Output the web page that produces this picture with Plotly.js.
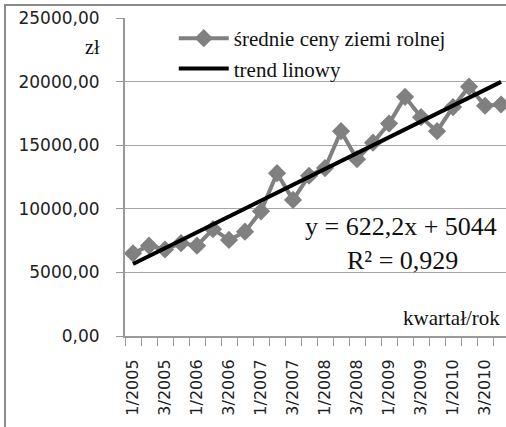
<!DOCTYPE html>
<html>
<head>
<meta charset="utf-8">
<script src="https://cdn.plot.ly/plotly-3.0.1.min.js"></script>
<style>
  html, body { margin: 0; padding: 0; background: #fff; }
  #wrap { position: relative; width: 506px; height: 427px; overflow: hidden; }
  #chart { position: absolute; left: 0; top: 0; width: 506px; height: 427px; }
  #frame { position: absolute; left: 4px; top: 4px; width: 520px; height: 440px;
           border-left: 2px solid #8a8a8a; border-top: 2px solid #8a8a8a; pointer-events: none; }
</style>
</head>
<body>
<div id="wrap">
  <div id="chart"></div>
  <div id="frame"></div>
</div>
<script>
// Quarterly categories (kwartał/rok)
const categories = [
  '1/2005','2/2005','3/2005','4/2005',
  '1/2006','2/2006','3/2006','4/2006',
  '1/2007','2/2007','3/2007','4/2007',
  '1/2008','2/2008','3/2008','4/2008',
  '1/2009','2/2009','3/2009','4/2009',
  '1/2010','2/2010','3/2010','4/2010'
];
// Średnie ceny ziemi rolnej (zł)
const priceValues = [
  6500, 7100, 6800, 7300,
  7100, 8400, 7550, 8200,
  9800, 12800, 10700, 12600,
  13200, 16100, 13900, 15200,
  16700, 18800, 17200, 16100,
  18000, 19600, 18100, 18200
];
// Linear trend shown on the chart: y = 622,2x + 5044, R² = 0,929
const trendSlope = 622.2;
const trendIntercept = 5044;
const trendLabel = 'y = 622,2x + 5044';
const r2Label = 'R² = 0,929';
// Tick labels: every other quarter is labelled
const tickLabels = categories.map((c, i) => (i % 2 === 0 ? c : ''));
const yTicks = [0, 5000, 10000, 15000, 20000, 25000];

const trendValues = categories.map((c, i) => trendIntercept + trendSlope * (i + 1));

const serif = 'Liberation Serif, Times New Roman, serif';
const sans = 'DejaVu Sans, Verdana, sans-serif';

const traces = [
  {
    x: categories, y: priceValues, type: 'scatter', mode: 'lines+markers',
    name: 'średnie ceny ziemi rolnej',
    line: { color: '#808080', width: 4 },
    marker: { symbol: 'diamond', size: 14, color: '#808080' }
  },
  {
    x: categories, y: trendValues, type: 'scatter', mode: 'lines',
    name: 'trend linowy',
    line: { color: '#000000', width: 4 }
  }
];

const layout = {
  width: 506, height: 427,
  margin: { l: 125, r: 0, t: 18, b: 91, pad: 0 },
  paper_bgcolor: '#ffffff', plot_bgcolor: '#ffffff',
  separators: ', ',
  showlegend: true,
  legend: {
    x: 0.128, y: 1.0, xanchor: 'left', yanchor: 'top',
    bgcolor: 'rgba(0,0,0,0)', borderwidth: 0,
    font: { family: serif, size: 21, color: '#111' },
    itemwidth: 50, tracegroupgap: 0
  },
  xaxis: {
    type: 'category',
    range: [-0.5, 23.31],
    tickmode: 'array', tickvals: categories, ticktext: tickLabels,
    tickangle: -90,
    ticks: 'outside', ticklen: 8, tickcolor: '#999', tickwidth: 1,
    tickson: 'boundaries',
    ticklabelstandoff: 15,
    showline: true, linecolor: '#999', linewidth: 2,
    showgrid: false, zeroline: false,
    tickfont: { family: sans, size: 16, color: '#222' }
  },
  yaxis: {
    range: [0, 25000],
    tickmode: 'array', tickvals: yTicks,
    tickformat: '.2f',
    ticks: 'outside', ticklen: 7, tickcolor: '#999', tickwidth: 1,
    ticklabelstandoff: 13,
    showline: true, linecolor: '#999', linewidth: 2,
    showgrid: true, gridcolor: '#a6a6a6', gridwidth: 1,
    zeroline: false,
    tickfont: { family: sans, size: 17, color: '#222' }
  },
  annotations: [
    { xref: 'paper', yref: 'paper', x: 0.725, y: 0.345, xanchor: 'center', yanchor: 'middle',
      text: trendLabel, showarrow: false, font: { family: serif, size: 26, color: '#111' } },
    { xref: 'paper', yref: 'paper', x: 0.729, y: 0.237, xanchor: 'center', yanchor: 'middle',
      text: r2Label, showarrow: false, font: { family: serif, size: 26, color: '#111' } },
    { xref: 'paper', yref: 'paper', x: 0.99, y: 0.057, xanchor: 'right', yanchor: 'middle',
      text: 'kwartał/rok', showarrow: false, font: { family: serif, size: 21, color: '#111' } },
    { xref: 'paper', yref: 'paper', x: -0.06, y: 0.91, xanchor: 'right', yanchor: 'middle',
      text: 'zł', showarrow: false, font: { family: serif, size: 20, color: '#111' } }
  ]
};

Plotly.newPlot('chart', traces, layout, { displayModeBar: false, staticPlot: true });
</script>
</body>
</html>
